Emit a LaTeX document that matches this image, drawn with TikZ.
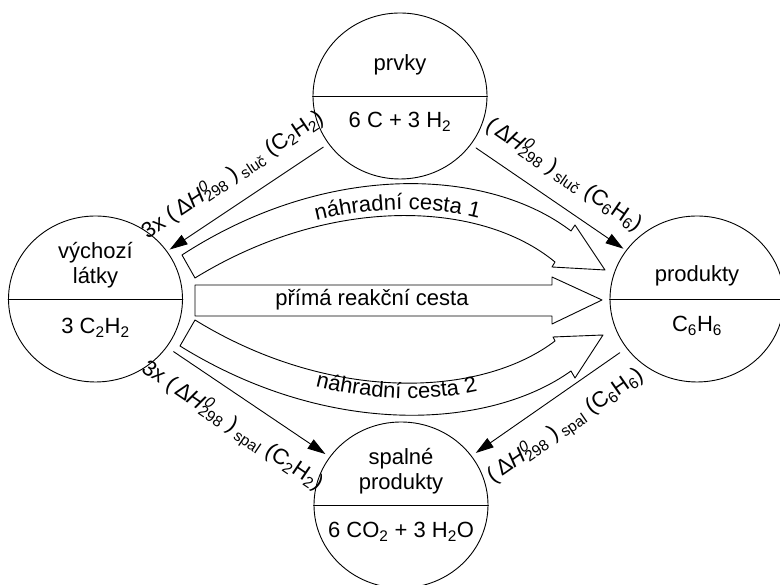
\documentclass[tikz,border=0pt]{standalone}
\usepackage{fontspec}
\setmainfont{Liberation Sans}
\usepackage{tikz}
\usetikzlibrary{arrows.meta,calc,positioning,shapes.geometric,decorations.text}
\newcommand\bigfont{\fontsize{22}{25}\selectfont}
\newcommand\dHlab[1]{(\,Δ\textit{H}\rlap{\textsuperscript{\textit{0}}}\textsubscript{298} )\,\textsubscript{#1}}

\begin{document}
\begin{tikzpicture}[x=1pt,y=1pt,line cap=round,line join=round,
  font=\bigfont,
  stage/.style={draw,ellipse,line width=.9pt,minimum width=174pt,minimum height=166pt,inner sep=0pt},
  tag/.style={inner sep=0pt,align=center},
  arr/.style={-{Triangle[length=18pt,width=11pt]},line width=.9pt,shorten <=6pt,shorten >=3pt},
  lab/.style={sloped,inner sep=0pt,pos=.5},
  band/.style={draw,line width=.9pt,fill=white},
  bandtext/.style={decorate,decoration={text along path,text align=center,text={|\bigfont|#1}}}]
\path[use as bounding box] (0,0) rectangle (780,585);
\fill[white] (0,0) rectangle (780,585);
\node[stage] (prvky) at (400,489) {};
\node[stage] (vychozi) at (95.5,286) {};
\node[stage] (produkty) at (697,286) {};
\node[stage] (spalne) at (401,80) {};
\foreach \n in {prvky,vychozi,produkty,spalne}
  \draw[line width=.9pt] (\n.west)--(\n.east);
\node[tag] (prvkyA) at ([yshift=31pt]prvky.center) {prvky};
\node[tag] (prvkyB) at ([yshift=-26pt]prvky.center) {6 C + 3 H\textsubscript{2}};
\node[tag] (vychoziA) at ([yshift=34pt]vychozi.center) {výchozí\\látky};
\node[tag] (vychoziB) at ([yshift=-29pt]vychozi.center) {3 C\textsubscript{2}H\textsubscript{2}};
\node[tag] (produktyA) at ([yshift=23pt]produkty.center) {produkty};
\node[tag] (produktyB) at ([yshift=-27pt]produkty.center) {C\textsubscript{6}H\textsubscript{6}};
\node[tag] (spalneA) at ([yshift=34pt]spalne.center) {spalné\\produkty};
\node[tag] (spalneB) at ([yshift=-27pt]spalne.center) {6 CO\textsubscript{2} + 3 H\textsubscript{2}O};
% hollow path arrows
\draw[band] (195,300) -- (552,300) -- (552,308) -- (602,285) -- (552,261) -- (552,269) -- (195,269) -- cycle;
\node[tag] (direct) at (372,285) {přímá reakční cesta};
\draw[band] (182,330) .. controls (330,426) and (490,416) .. (571,354) -- (575,360) -- (605,315)
  -- (552,318) -- (555,323) .. controls (480,385) and (330,390) .. (195,307) -- cycle;
\path[bandtext={náhradní cesta 1}] (236,335.3) .. controls (359.3,394.5) and (487.5,384.8) .. (555,329);
\draw[band] (195,265) .. controls (330,182) and (480,187) .. (555,244) -- (553,248) -- (603,250)
  -- (575,207) -- (571,214) .. controls (490,156) and (330,146) .. (180,239) -- cycle;
\path[bandtext={náhradní cesta 2}] (236,227.7) .. controls (359.3,168.5) and (487.5,177.5) .. (555,227);
% enthalpy arrows
\draw[arr] (prvky) -- node[lab,above=16pt] (slucA) {3x \dHlab{sluč} (C\textsubscript{2}H\textsubscript{2})} (vychozi);
\draw[arr] (prvky) -- node[lab,above=16pt] (slucB) {\dHlab{sluč} (C\textsubscript{6}H\textsubscript{6})} (produkty);
\draw[arr,shorten <=8pt,shorten >=5pt] (vychozi) -- node[lab,below=16pt] (spalA) {3x \dHlab{spal} (C\textsubscript{2}H\textsubscript{2})} (spalne);
\draw[arr,shorten <=8pt,shorten >=5pt] (produkty) -- node[lab,below=16pt] (spalB) {\dHlab{spal} (C\textsubscript{6}H\textsubscript{6})} (spalne);
\end{tikzpicture}
\end{document}
